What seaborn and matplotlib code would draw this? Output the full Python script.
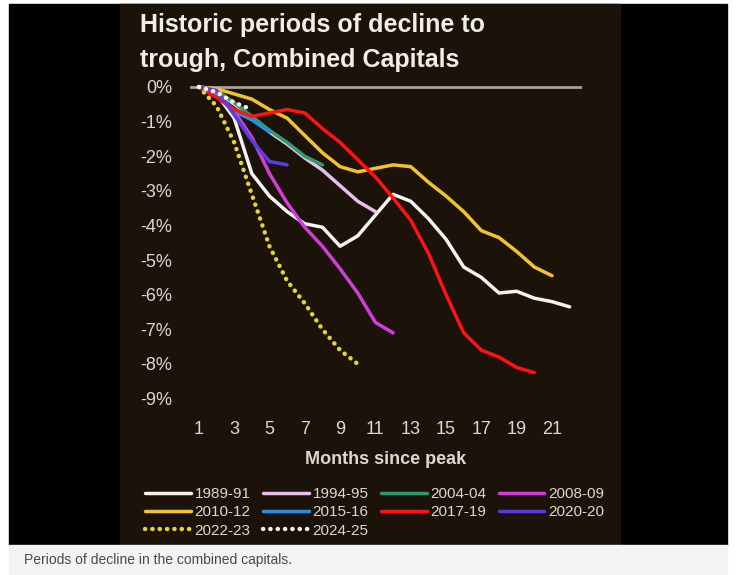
import matplotlib
matplotlib.use("Agg")
import matplotlib.pyplot as plt
import seaborn as sns
import pandas as pd
from matplotlib.patches import Rectangle

#%% data (% change from peak, by month since peak)
s1989 = [0, -0.2, -0.9, -2.5, -3.15, -3.6, -3.95, -4.05, -4.6, -4.3, -3.7,
         -3.1, -3.3, -3.8, -4.4, -5.2, -5.5, -5.95, -5.9, -6.1, -6.2, -6.35]
s1994 = [0, -0.1, -0.5, -0.85, -1.3, -1.65, -2.05, -2.4, -2.85, -3.3, -3.6]
s2004 = [0, -0.1, -0.45, -0.85, -1.25, -1.6, -2.0, -2.25]
s2008 = [0, -0.15, -0.7, -1.45, -2.5, -3.35, -4.05, -4.6, -5.25, -5.95, -6.8, -7.1]
s2010 = [0, -0.05, -0.2, -0.35, -0.65, -0.9, -1.4, -1.9, -2.3, -2.45, -2.35,
         -2.25, -2.3, -2.75, -3.15, -3.6, -4.15, -4.35, -4.75, -5.2, -5.45]
s2015 = [0, -0.25, -0.7, -0.95, -1.3]
s2017 = [0, -0.3, -0.65, -0.85, -0.75, -0.65, -0.75, -1.2, -1.6, -2.1, -2.6,
         -3.2, -3.85, -4.8, -6.0, -7.1, -7.6, -7.8, -8.1, -8.25]
s2020 = [0, -0.1, -0.8, -1.55, -2.15, -2.25]
s2022 = [0, -0.55, -1.6, -3.1, -4.6, -5.6, -6.25, -7.0, -7.6, -8.0]
s2024 = [0, -0.15, -0.45, -0.65]

periods = ["1989-91", "1994-95", "2004-04", "2008-09", "2010-12",
           "2015-16", "2017-19", "2020-20", "2022-23", "2024-25"]
series = [s1989, s1994, s2004, s2008, s2010, s2015, s2017, s2020, s2022, s2024]
colors = ["#f6f3ee", "#e9bdf0", "#2f9a68", "#cf3fd6", "#f3c22f",
          "#2a8fe2", "#ff1212", "#5a3de0", "#e3d631", "#f6f3ee"]
dotted = ["2022-23", "2024-25"]

xticks = list(range(1, 22, 2))
yticks = list(range(0, -10, -1))

rows = []
for p, vals in zip(periods, series):
    for m, v in enumerate(vals, start=1):
        rows.append([p, m, v])
df = pd.DataFrame(rows, columns=["period", "month", "change"])

#%% plot
bg = "#1b1309"
txt = "#ddd8cf"
plt.rcParams['font.family'] = ['Liberation Sans', 'DejaVu Sans']

fig = plt.figure(figsize=(7.36, 5.75), dpi=100, facecolor="white")
W, H = 736, 575
fig.patches.append(Rectangle((9 / W, 1 - 545 / H), (727 - 9) / W, 541 / H,
                             transform=fig.transFigure, color="black", zorder=-3))
fig.patches.append(Rectangle((120 / W, 1 - 545 / H), 500 / W, 541 / H,
                             transform=fig.transFigure, color=bg, zorder=-2))
fig.patches.append(Rectangle((9 / W, 0), (727 - 9) / W, 30 / H,
                             transform=fig.transFigure, color="#f3f3f3", zorder=-2))

ax = fig.add_axes([190 / W, 1 - 409 / H, 392 / W, (409 - 76.6) / H])
ax.set_facecolor("none")
ax.axhline(0, color="#a8a298", lw=2, zorder=1)

for p, c in zip(periods, colors):
    d = df[df["period"] == p]
    if p in dotted:
        sns.lineplot(ax=ax, x=d["month"], y=d["change"], color=c, lw=3.2,
                     linestyle=(0, (0.05, 1.6)), dash_capstyle="round",
                     label=p, errorbar=None, zorder=3)
    else:
        sns.lineplot(ax=ax, x=d["month"], y=d["change"], color=c, lw=2.5,
                     label=p, errorbar=None, solid_capstyle="round", zorder=2)

ax.set_xlim(0.5, 22.7)
ax.set_ylim(-9.3, 0.3)
ax.set_xticks(xticks)
ax.set_xticklabels([str(t) for t in xticks])
ax.set_yticks(yticks)
ax.set_yticklabels([f"{t}%" for t in yticks])
ax.tick_params(axis="both", length=0, labelsize=13, colors=txt)
ax.tick_params(axis="y", pad=13)
ax.tick_params(axis="x", pad=9)
for s in ax.spines.values():
    s.set_visible(False)
ax.set_xlabel("Months since peak", fontsize=13, fontweight="bold", color=txt, labelpad=9)
ax.set_ylabel("")

# legend filled row by row like the original
handles, labels = ax.get_legend_handles_labels()
order = [0, 4, 8, 1, 5, 9, 2, 6, 3, 7]
leg = ax.legend([handles[i] for i in order], [labels[i] for i in order],
                ncol=4, loc="upper left", bbox_to_anchor=(145 / W, 1 - 487 / H),
                bbox_transform=fig.transFigure, frameon=False, fontsize=11,
                labelcolor=txt, handlelength=3.0, handletextpad=0.25,
                columnspacing=0.8, labelspacing=0.28, borderpad=0, borderaxespad=0)

fig.text(140 / W, 1 - 32 / H, "Historic periods of decline to", fontsize=18,
         fontweight="bold", color="#f2eee6", va="baseline")
fig.text(140 / W, 1 - 67 / H, "trough, Combined Capitals", fontsize=18,
         fontweight="bold", color="#f2eee6", va="baseline")
fig.text(24 / W, 1 - 560 / H, "Periods of decline in the combined capitals.",
         fontsize=10, color="#4a4a4a", va="center")

fig.savefig("out.png", dpi=100, facecolor=fig.get_facecolor())
